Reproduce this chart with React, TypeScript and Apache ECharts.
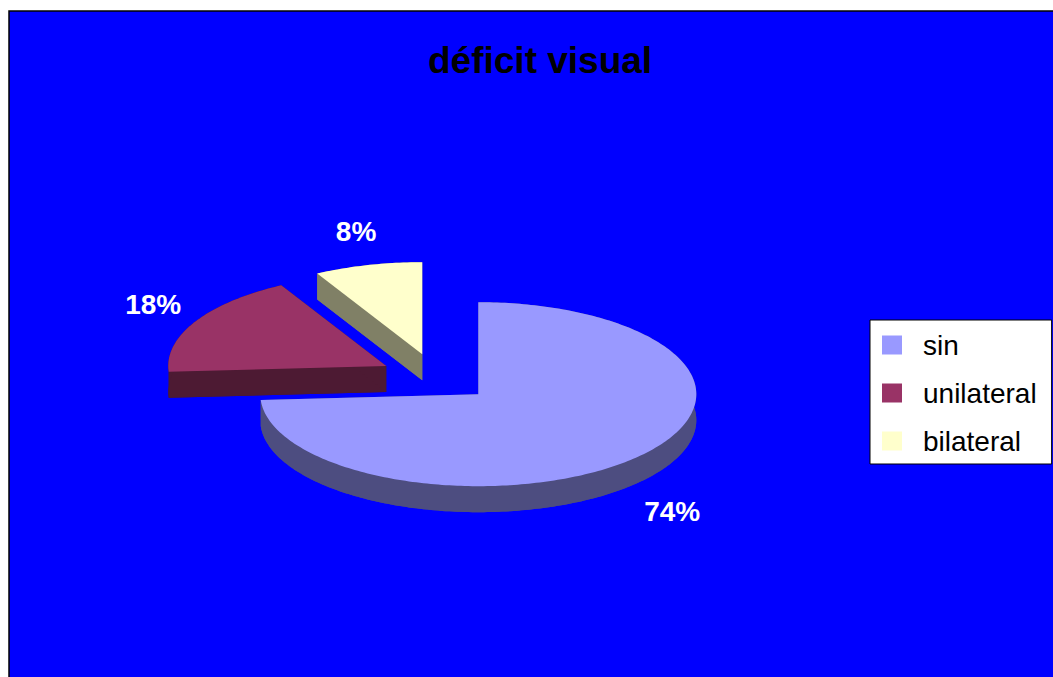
import React, { useEffect, useRef } from "react";
import * as echarts from "echarts";

// ---- data ----
const categories = ["sin", "unilateral", "bilateral"];
const values = [74, 18, 8];
const percentLabels = ["74%", "18%", "8%"];

// ---- styles ----
const topColors = ["#9999FF", "#993366", "#FFFFCC"];
const sideColors = ["#4D4D80", "#4D1A33", "#808066"];
const FONT = "Arial, 'Liberation Sans', sans-serif";

// pie geometry (pixels)
const CX = 436.5;
const CY = 377.6;
const RX = 218;
const RY = 92;
const DEPTH = 26;
const EXPLODE = 0.263;
const LABEL_KX = 1.22;
const LABEL_KY = 1.38;

const rad = (d: number) => (d * Math.PI) / 180;

function makeRenderItem(idx: number) {
  return (_params: any, api: any) => {
    const total = values.reduce((a, b) => a + b, 0);
    let before = 0;
    for (let i = 0; i < idx; i++) before += values[i];
    const v = api.value(0);
    const a0 = (before / total) * 360;
    const a1 = ((before + v) / total) * 360;
    const mid = (a0 + a1) / 2;
    const cx = CX + EXPLODE * RX * Math.sin(rad(mid));
    const cy = CY - EXPLODE * RY * Math.cos(rad(mid));
    const pt = (a: number, dy = 0) => [cx + RX * Math.sin(rad(a)), cy - RY * Math.cos(rad(a)) + dy];
    const arcTop: number[][] = [];
    const arcBot: number[][] = [];
    const steps = Math.max(2, Math.ceil(a1 - a0));
    for (let s = 0; s <= steps; s++) {
      const a = a0 + ((a1 - a0) * s) / steps;
      arcTop.push(pt(a));
      arcBot.push(pt(a, DEPTH));
    }
    const side = sideColors[idx];
    const children: any[] = [];
    children.push({
      type: "polygon",
      shape: { points: [[cx, cy + DEPTH], ...arcBot] },
      style: { fill: side },
    });
    [a0, a1].forEach((a) => {
      children.push({
        type: "polygon",
        shape: { points: [[cx, cy], pt(a), pt(a, DEPTH), [cx, cy + DEPTH]] },
        style: { fill: side },
      });
    });
    children.push({
      type: "polygon",
      shape: { points: [...arcTop, ...arcBot.slice().reverse()] },
      style: { fill: side },
    });
    children.push({
      type: "polygon",
      shape: { points: [[cx, cy], ...arcTop] },
      style: { fill: topColors[idx] },
    });
    const dx = RX * Math.sin(rad(mid));
    const dy = -RY * Math.cos(rad(mid));
    const lx = cx + dx * LABEL_KX;
    const ly = cy + dy * LABEL_KY + (dy > 0 ? DEPTH + 4 : 0);
    children.push({
      type: "text",
      style: {
        text: percentLabels[idx],
        x: lx,
        y: ly,
        fill: "#FFFFFF",
        fontSize: 28,
        fontWeight: "bold",
        fontFamily: FONT,
        align: "center",
        verticalAlign: "middle",
        textAlign: "center",
        textVerticalAlign: "middle",
      },
    });
    return { type: "group", children };
  };
}

export default function App() {
  const ref = useRef<HTMLDivElement>(null);
  useEffect(() => {
    if (!ref.current) return;
    const chart = echarts.init(ref.current, undefined, { renderer: "svg" });
    chart.setOption({
      animation: false,
      backgroundColor: "#FFFFFF",
      graphic: [
        {
          type: "rect",
          z: -1,
          silent: true,
          shape: { x: 9, y: 11, width: 1100, height: 700 },
          style: { fill: "#0000FF", stroke: "#000000", lineWidth: 1.5 },
        },
      ],
      title: {
        text: "déficit visual",
        left: 428,
        top: 42,
        padding: 0,
        textStyle: { fontSize: 37, fontWeight: "bold", fontFamily: FONT, color: "#000000" },
      },
      legend: {
        orient: "vertical",
        left: 870,
        top: 320,
        data: categories,
        backgroundColor: "#FFFFFF",
        borderColor: "#000000",
        borderWidth: 1,
        padding: [10, 15, 8, 12],
        itemWidth: 20,
        itemHeight: 19,
        itemGap: 18,
        icon: "rect",
        selectedMode: false,
        textStyle: {
          fontSize: 28,
          fontFamily: FONT,
          color: "#000000",
          lineHeight: 30,
          padding: [0, 0, 0, 16],
        },
      },
      series: categories.map((name, i) => ({
        type: "custom",
        name,
        coordinateSystem: "none",
        itemStyle: { color: topColors[i] },
        data: [[values[i]]],
        renderItem: makeRenderItem(i),
      })),
    });
    return () => chart.dispose();
  }, []);
  return (
    <div
      ref={ref}
      style={{ position: "fixed", left: 0, top: 0, width: 1053, height: 677 }}
    />
  );
}
